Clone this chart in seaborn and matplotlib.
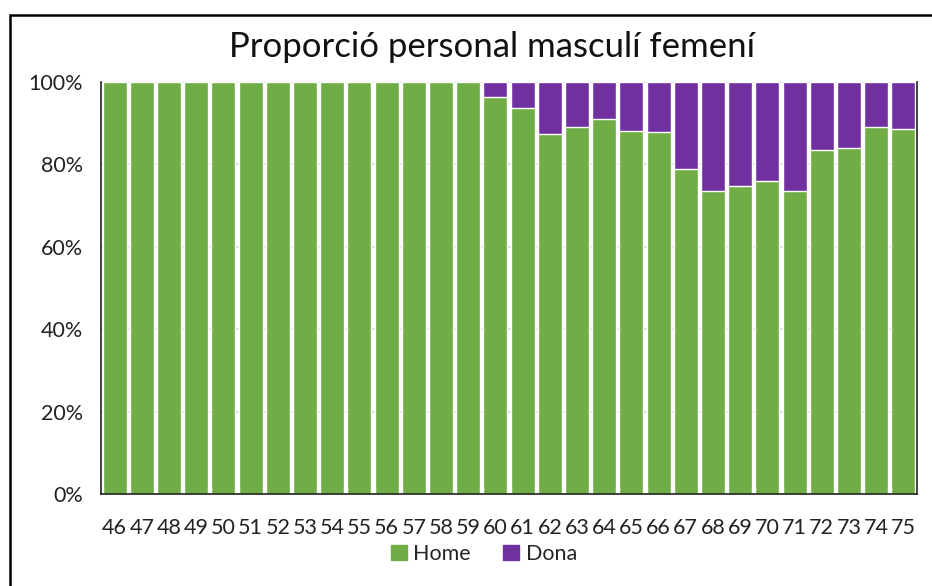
import pandas as pd
import matplotlib.pyplot as plt
import seaborn as sns
from matplotlib.patches import Rectangle, Patch
from matplotlib.ticker import PercentFormatter

# Dades: any i percentatge de personal per sexe
anys = [str(a) for a in range(46, 76)]
home = [100, 100, 100, 100, 100, 100, 100, 100, 100, 100, 100, 100, 100, 100,
        96.3, 93.8, 87.3, 89.1, 91.0, 88.2, 87.9, 78.9, 73.5, 74.8, 76.0, 73.5,
        83.5, 84.1, 89.1, 88.5]
dona = [0, 0, 0, 0, 0, 0, 0, 0, 0, 0, 0, 0, 0, 0,
        3.7, 6.2, 12.7, 10.9, 9.0, 11.8, 12.1, 21.1, 26.5, 25.2, 24.0, 26.5,
        16.5, 15.9, 10.9, 11.5]

verd = '#70AD47'
lila = '#7030A0'

df = pd.DataFrame({'any': anys, 'Home': home, 'Dona': dona})
df['total'] = df['Home'] + df['Dona']

sns.set_style("white")
plt.rcParams['font.family'] = ['Lato', 'DejaVu Sans']

fig = plt.figure(figsize=(9.32, 5.86), dpi=100)
ax = fig.add_axes([101 / 932, 1 - 494 / 586, 816 / 932, 412 / 586])

# barres apilades: total (lila) i home (verd) a sobre
sns.barplot(data=df, x='any', y='total', color=lila, width=0.88, saturation=1, ax=ax)
sns.barplot(data=df, x='any', y='Home', color=verd, width=0.88, saturation=1, ax=ax)

ax.set_ylim(0, 100)
ax.set_xlim(-0.5, len(anys) - 0.5)
ax.set_yticks([0, 20, 40, 60, 80, 100])
ax.yaxis.set_major_formatter(PercentFormatter(decimals=0))
ax.yaxis.grid(True, color='#d9d9d9', linewidth=1.2)
ax.set_axisbelow(True)
ax.set_xlabel('')
ax.set_ylabel('')
ax.tick_params(axis='y', labelsize=15.5, pad=13, length=0)
ax.tick_params(axis='x', labelsize=15.5, pad=17, length=0)
for lbl in ax.get_yticklabels() + ax.get_xticklabels():
    lbl.set_color('#222222')

ax.spines['top'].set_visible(False)
for s in ['bottom', 'left', 'right']:
    ax.spines[s].set_color('#222222')
    ax.spines[s].set_linewidth(1.2)

fig.text(0.528, 1 - 47 / 586, 'Proporció personal masculí femení',
         ha='center', va='center', fontsize=25, color='#111111')

handles = [Patch(color=verd, label='Home'), Patch(color=lila, label='Dona')]
fig.legend(handles=handles, loc='center', bbox_to_anchor=(484 / 932, 1 - 554 / 586),
           ncol=2, frameon=False, fontsize=15.5, handlelength=0.75, handleheight=0.75,
           handletextpad=0.3, columnspacing=1.5)

# marc exterior del gràfic
fig.patches.append(Rectangle((10 / 932, -0.02), 1.0, (586 - 15) / 586 + 0.02,
                             transform=fig.transFigure, fill=False,
                             edgecolor='black', linewidth=1.8))

fig.savefig('out.png', dpi=100)
